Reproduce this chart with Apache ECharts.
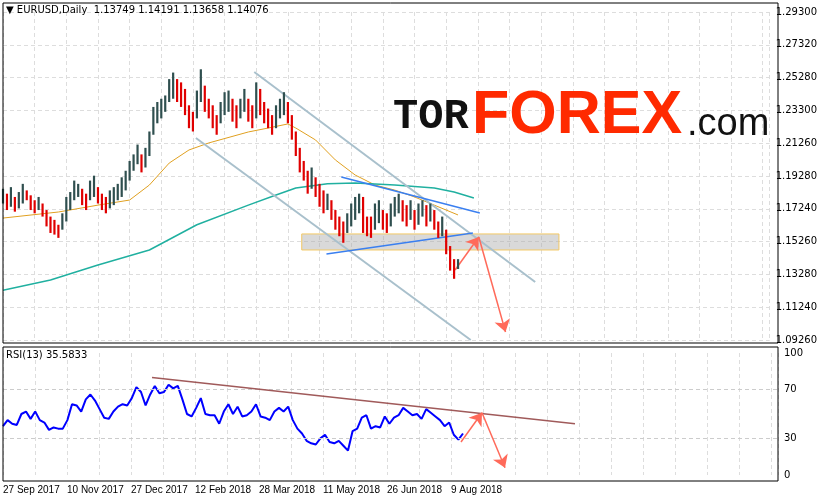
<!DOCTYPE html>
<html><head><meta charset="utf-8">
<script src="https://cdn.jsdelivr.net/npm/echarts@6/dist/echarts.min.js"></script>
<style>html,body{margin:0;padding:0;background:#fff}#c{width:820px;height:503px}</style>
</head><body><div id="c"></div>
<script>
const dateLabels = ['27 Sep 2017','10 Nov 2017','27 Dec 2017','12 Feb 2018','28 Mar 2018','11 May 2018','26 Jun 2018','9 Aug 2018'];
const priceTicks = ['1.09260','1.11240','1.13280','1.15260','1.17240','1.19280','1.21260','1.23300','1.25280','1.27320','1.29300'];
const rsiTicks = {0:'0',30:'30',70:'70',100:'100'};
const lows = [1.176,1.172,1.174,1.171,1.173,1.176,1.178,1.172,1.170,1.172,1.168,1.162,1.158,1.157,1.155,1.160,1.165,1.172,1.178,1.180,
1.175,1.172,1.178,1.180,1.176,1.172,1.170,1.173,1.175,1.178,1.180,1.184,1.190,1.196,1.200,1.195,1.198,1.205,1.218,1.225,
1.228,1.232,1.238,1.240,1.238,1.235,1.230,1.222,1.220,1.228,1.238,1.232,1.228,1.222,1.218,1.225,1.230,1.232,1.226,1.222,
1.228,1.232,1.226,1.222,1.228,1.230,1.225,1.222,1.218,1.222,1.228,1.230,1.225,1.215,1.205,1.195,1.190,1.182,1.185,1.180,
1.174,1.170,1.172,1.166,1.160,1.156,1.152,1.158,1.162,1.166,1.170,1.158,1.156,1.155,1.160,1.164,1.160,1.158,1.162,1.168,
1.170,1.165,1.162,1.166,1.160,1.163,1.168,1.162,1.165,1.160,1.155,1.156,1.145,1.135,1.130,1.136];
const highs = [1.185,1.182,1.186,1.180,1.183,1.188,1.184,1.181,1.178,1.180,1.176,1.172,1.168,1.166,1.163,1.170,1.180,1.183,1.190,1.188,
1.185,1.182,1.190,1.193,1.186,1.182,1.180,1.184,1.186,1.188,1.192,1.196,1.202,1.206,1.212,1.206,1.210,1.220,1.235,1.238,
1.240,1.242,1.252,1.256,1.252,1.250,1.246,1.236,1.232,1.245,1.258,1.248,1.240,1.236,1.230,1.238,1.244,1.245,1.240,1.236,
1.240,1.246,1.240,1.236,1.250,1.246,1.238,1.234,1.230,1.236,1.240,1.244,1.238,1.230,1.220,1.210,1.202,1.196,1.198,1.192,
1.188,1.184,1.182,1.178,1.172,1.168,1.165,1.170,1.176,1.180,1.182,1.180,1.168,1.168,1.176,1.178,1.172,1.170,1.176,1.180,
1.182,1.178,1.175,1.178,1.172,1.176,1.178,1.175,1.176,1.172,1.165,1.168,1.160,1.150,1.142,1.142];
const ma50Idx = [0,14,24,32,37,42,47,52,62,67,72,74,79,84,89,94,99,104,109,115];
const ma50 = [1.1671,1.1708,1.175,1.1781,1.1873,1.2007,1.2087,1.213,1.2197,1.2221,1.2246,1.2221,1.2148,1.2026,1.1934,1.1873,1.1842,1.18,1.175,1.169];
const ma200Idx = [0,12,24,37,49,62,69,74,82,89,99,109,114,119];
const ma200 = [1.123,1.1293,1.1384,1.1476,1.163,1.175,1.1812,1.1855,1.188,1.1885,1.1873,1.1855,1.183,1.1794];
const rsi = [40,45,42,41,50,52,46,52,45,43,37,39,38,38,45,58,57,52,62,66,61,54,47,46,52,56,58,57,63,72,68,57,66,73,67,68,74,71,73,62,
50,48,55,63,50,49,49,42,52,58,50,56,48,49,52,58,48,47,45,52,55,52,56,45,38,34,28,26,25,30,33,27,26,28,24,20,36,38,47,49,
38,40,39,48,42,47,49,55,52,49,50,46,54,51,48,45,40,43,33,29,34];
const lastPrice = 1.14076;

const T = p => (p - 1.0926) / 0.02004;
const bars = lows.map((l,i)=>[i,T(l),T(highs[i]), i>0 && (l+highs[i]) < (lows[i-1]+highs[i-1]) ? 1 : 0]);
const rsiSpan = 115/(rsi.length-1);
const rsiData = rsi.map((v,k)=>[k*rsiSpan, v]);
const font = 'DejaVu Sans';
const xFmt = v => (v % 16 === 0 && dateLabels[v/16]) ? dateLabels[v/16] : '';
const grey = '#a9c0cc';
const seg = (a,b,c,d,ls)=>[{coord:[a,T(b)],lineStyle:ls},{coord:[c,T(d)]}];
const chLs = {color:grey,width:2,type:'solid'};
const blLs = {color:'#3a7ff0',width:1.5,type:'solid'};
const chart = echarts.init(document.getElementById('c'));
chart.setOption({
  animation:false,
  grid:[{left:3,right:42,top:12,height:328},{left:3,right:42,top:353,height:122}],
  xAxis:[
    {type:'value',gridIndex:0,min:0,max:193.75,interval:8,axisLine:{show:false},axisTick:{show:false},axisLabel:{show:false},
     splitLine:{lineStyle:{color:'#ddd',type:[4,3]}}},
    {type:'value',gridIndex:1,min:0,max:193.75,interval:8,axisLine:{show:false},axisTick:{show:false},
     axisLabel:{formatter:xFmt,align:'left',margin:10,fontFamily:'Liberation Sans',fontSize:10,color:'#000',showMaxLabel:false},
     splitLine:{lineStyle:{color:'#ddd',type:[4,3]}}}
  ],
  yAxis:[
    {type:'value',gridIndex:0,position:'right',min:0,max:10,interval:1,axisLine:{show:false},axisTick:{show:false},
     axisLabel:{formatter:v=>priceTicks[Math.round(v)]||'',fontFamily:font,fontSize:10,color:'#000',margin:6},
     splitLine:{lineStyle:{color:'#ddd',type:[4,3]}}},
    {type:'value',gridIndex:1,position:'right',min:0,max:100,interval:10,axisLine:{show:false},axisTick:{show:false},
     axisLabel:{formatter:v=>rsiTicks[v]||'',fontFamily:font,fontSize:10,color:'#000',margin:6},splitLine:{show:false}}
  ],
  graphic:[
    {type:'rect',shape:{x:3,y:3,width:775,height:340},style:{fill:'none',stroke:'#000',lineWidth:1},z:100},
    {type:'rect',shape:{x:3,y:347,width:775,height:134},style:{fill:'none',stroke:'#000',lineWidth:1},z:100},
    {type:'text',left:6,top:5,style:{text:'▼ EURUSD,Daily  1.13749 1.14191 1.13658 1.14076',font:'10px DejaVu Sans',fill:'#000'},z:101},
    {type:'text',left:6,top:350,style:{text:'RSI(13) 35.5833',font:'10px DejaVu Sans',fill:'#000'},z:101},
    {type:'text',left:393,top:96,style:{text:'TOR',font:'bold 42px Liberation Mono',fill:'#111'},z:101},
    {type:'text',left:472,top:86,style:{text:'FOREX',font:'bold 61px Liberation Sans',fill:'#ff2a00'},z:101},
    {type:'text',left:687,top:106,style:{text:'.com',font:'38px Liberation Sans',fill:'#111'},z:101}
  ],
  series:[
    {type:'custom',xAxisIndex:0,yAxisIndex:0,data:bars,z:5,
     renderItem:(p,api)=>{const a=api.coord([api.value(0),api.value(1)]),b=api.coord([api.value(0),api.value(2)]);
       return {type:'line',shape:{x1:a[0],y1:a[1],x2:b[0],y2:b[1]},style:{stroke:api.value(3)?'#e00000':'#2f4f4f',lineWidth:2.2}};},
     markArea:{silent:true,itemStyle:{color:'rgba(170,170,170,0.45)',borderColor:'#f2c865',borderWidth:1},
       data:[[{coord:[75.5,T(1.1574)]},{coord:[140.5,T(1.1476)]}]]},
     markLine:{silent:true,symbol:['none','none'],label:{show:false},data:[
       seg(63.5,1.2563,134.5,1.128,chLs),
       seg(48.75,1.216,118.2,1.0926,chLs),
       seg(85.5,1.1922,120.5,1.1702,blLs),
       seg(81.75,1.1451,118.75,1.158,blLs)
     ]}},
    {type:'line',xAxisIndex:0,yAxisIndex:0,data:ma50Idx.map((x,i)=>[x,T(ma50[i])]),showSymbol:false,lineStyle:{color:'#e0a020',width:1},z:4},
    {type:'line',xAxisIndex:0,yAxisIndex:0,data:ma200Idx.map((x,i)=>[x,T(ma200[i])]),showSymbol:false,lineStyle:{color:'#20b0a0',width:1.5},z:4,
     markLine:{silent:true,symbol:['none','arrow'],symbolSize:12,label:{show:false},lineStyle:{color:'#ff6a5a',width:1.5,type:'solid'},
       data:[seg(114.25,1.1354,120.25,1.1555),seg(120.25,1.1555,127,1.0975)]}},
    {type:'line',xAxisIndex:0,yAxisIndex:0,data:[],
     markLine:{silent:true,symbol:'none',lineStyle:{opacity:0},
       label:{position:'end',formatter:lastPrice.toFixed(5),backgroundColor:'#000',color:'#fff',fontFamily:font,fontSize:10,padding:[2,3],distance:3},
       data:[{yAxis:T(lastPrice)}]}},
    {type:'line',xAxisIndex:1,yAxisIndex:1,data:rsiData,showSymbol:false,lineStyle:{color:'#0000ff',width:2},
     markLine:{silent:true,symbol:['none','none'],label:{show:false},data:[
       {yAxis:30,lineStyle:{color:'#ccc',type:[4,3],width:1}},{yAxis:70,lineStyle:{color:'#ccc',type:[4,3],width:1}},
       [{coord:[37.25,80],lineStyle:{color:'#a05a5a',width:1.5,type:'solid'}},{coord:[143,42]}],
       [{coord:[114.5,27],symbol:'none',lineStyle:{color:'#ff6a5a',width:1.5,type:'solid'}},{coord:[119.75,51],symbol:'arrow',symbolSize:12}],
       [{coord:[119.75,51],symbol:'none',lineStyle:{color:'#ff6a5a',width:1.5,type:'solid'}},{coord:[125.5,6],symbol:'arrow',symbolSize:12}]
     ]}}
  ]
});
</script></body></html>
